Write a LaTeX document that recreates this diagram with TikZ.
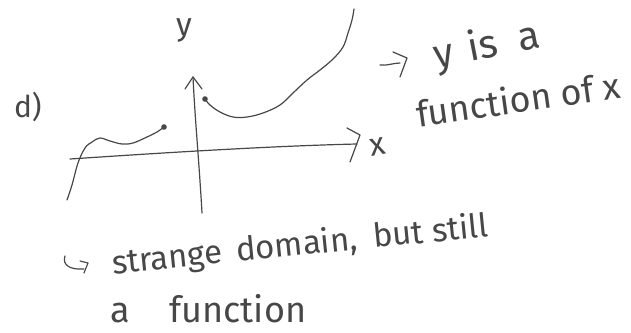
\documentclass[tikz,border=0pt]{standalone}
\usepackage{fontspec}
\setmainfont{Fira Sans}
\begin{document}
\begin{tikzpicture}[x=1pt,y=-1pt,
  ink/.style={draw=black!72,line width=1.2pt,line cap=round,line join=round},
  hand/.style={text=black!72,inner sep=0pt,outer sep=0pt},
  enddot/.style={fill=black!72,draw=none}]
\path[use as bounding box] (0,0) rectangle (631,332);

% labels
\node[hand,anchor=base west,font=\fontsize{30}{34}\selectfont] (dlabel) at (14,117) {d)};
\node[hand,anchor=base,font=\fontsize{32}{36}\selectfont] (ylabel) at (184,35) {y};
\node[hand,anchor=base,font=\fontsize{32}{36}\selectfont,rotate=10] (xlabel) at (379,155) {x};

% axes
\coordinate (xs) at (70,159);
\coordinate (xe) at (357,144);
\coordinate (ys) at (202,213);
\coordinate (ye) at (193,77);
\draw[ink] (xs) .. controls (160,153) and (270,146) .. (xe);
\draw[ink] (347,128) -- (360,135) -- (350,162);
\draw[ink] (ys) .. controls (199,160) and (195,120) .. (ye);
\draw[ink] (185,89) -- (ye) -- (202,89);

% left piece
\draw[ink] plot[smooth,tension=0.6] coordinates {(67,200) (72,185) (78,163) (85,148) (92,142) (100,138) (110,141) (122,144) (133,143) (147,137) (157,132) (164,127)};
\fill[enddot] (164,127) circle (2.8);

% right piece
\draw[ink] plot[smooth,tension=0.6] coordinates {(205,99) (210,105) (220,112) (233,117) (247,117) (263,113) (280,105) (293,93) (307,80) (320,70) (333,59) (343,47) (348,33) (352,20) (354,9)};
\fill[enddot] (205,99) circle (2.8);

% arrow to "y is a"
\coordinate (a1s) at (380,65);
\coordinate (a1e) at (400,63);
\draw[ink] (a1s) .. controls (387,66) and (393,63) .. (a1e);
\draw[ink] (393,52) -- (407,58) -- (400,77);

\node[hand,anchor=base west,rotate=11,font=\fontsize{40}{44}\selectfont] (t1) at (436,68) {y\hspace{15pt}is\hspace{21pt}a};
\node[hand,anchor=base west,rotate=8,font=\fontsize{36}{40}\selectfont] (t2) at (418,127) {function of x};

% hooked arrow
\coordinate (h1) at (65,256);
\coordinate (h2) at (84,269);
\draw[ink] (h1) .. controls (62,265) and (70,270) .. (h2);
\draw[ink] (80,261) -- (88,263) -- (84,273);

\node[hand,anchor=base west,rotate=5.7,font=\fontsize{33}{37}\selectfont] (t3) at (113,274) {strange\hspace{14pt}domain,\hspace{16pt}but still};
\node[hand,anchor=base west,font=\fontsize{36}{40}\selectfont] (t4) at (110,322) {a\hspace{40pt}function};
\end{tikzpicture}
\end{document}
